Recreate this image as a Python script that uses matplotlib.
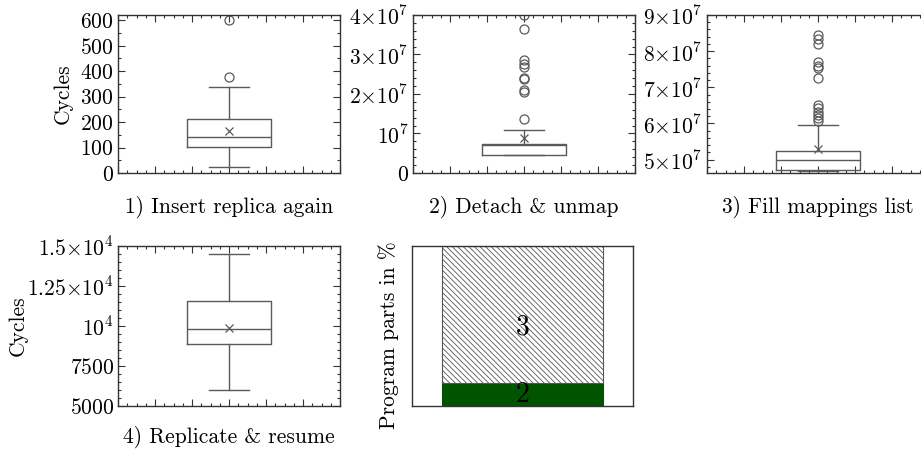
import matplotlib
matplotlib.use('Agg')
import matplotlib.pyplot as plt
from matplotlib.ticker import MultipleLocator, FixedLocator, FixedFormatter

plt.rcParams['font.family'] = ['cmr10', 'DejaVu Serif']
plt.rcParams['mathtext.fontset'] = 'cm'
plt.rcParams['axes.unicode_minus'] = False
plt.rcParams['axes.formatter.use_mathtext'] = True
plt.rcParams['hatch.linewidth'] = 0.6
plt.rcParams['hatch.color'] = '#222222'

# ---------------- data ----------------
titles = ["1) Insert replica again", "2) Detach & unmap",
          "3) Fill mappings list", "4) Replicate & resume"]

medians = [143, 7.0e6, 4.99e7, 9800]
q1s = [103, 4.5e6, 4.70e7, 8900]
q3s = [211, 7.35e6, 5.23e7, 11560]
whislos = [22, 4.5e6, 4.68e7, 5980]
whishis = [337, 1.08e7, 5.95e7, 14480]
means = [166, 8.9e6, 5.30e7, 9860]

fliers1 = [378, 600]
fliers2 = [1.37e7, 2.05e7, 2.10e7, 2.37e7, 2.40e7, 2.69e7, 2.75e7, 2.85e7, 3.65e7, 4.0e7]
fliers3 = [6.08e7, 6.15e7, 6.24e7, 6.33e7, 6.43e7, 6.52e7, 7.25e7, 7.53e7,
           7.60e7, 7.70e7, 8.19e7, 8.33e7, 8.45e7]
fliers4 = []
fliers = [fliers1, fliers2, fliers3, fliers4]

yticks1 = [0, 100, 200, 300, 400, 500, 600]
yticklabels1 = ['0', '100', '200', '300', '400', '500', '600']
yticks2 = [0, 1e7, 2e7, 3e7, 4e7]
yticklabels2 = ['0', r'10^{7}', r'2{\times}10^{7}', r'3{\times}10^{7}', r'4{\times}10^{7}']
yticks3 = [5e7, 6e7, 7e7, 8e7, 9e7]
yticklabels3 = [r'5{\times}10^{7}', r'6{\times}10^{7}', r'7{\times}10^{7}',
                r'8{\times}10^{7}', r'9{\times}10^{7}']
yticks4 = [5000, 7500, 10000, 12500, 15000]
yticklabels4 = ['5000', '7500', r'10^{4}', r'1.25{\times}10^{4}', r'1.5{\times}10^{4}']
yticks = [yticks1, yticks2, yticks3, yticks4]
yticklabels = [yticklabels1, yticklabels2, yticklabels3, yticklabels4]
ylims = [(0, 620), (0, 4e7), (4.63e7, 9e7), (5000, 15000)]
yminor = [50, 2e6, 2e6, 500]

part_names = ['2', '3']
part_values = [14.5, 85.5]

# ---------------- style ----------------
W, H = 921, 450
fig = plt.figure(figsize=(W / 100, H / 100), dpi=100)

def ax_px(left, top, right, bottom):
    return fig.add_axes([left / W, 1 - bottom / H, (right - left) / W, (bottom - top) / H])

boxes_px = [(118, 15, 340, 173), (413, 15, 635, 173), (707, 15, 929, 173), (118, 246, 340, 406)]
ylabel_x = {0: -0.203, 3: -0.405}
xlabel_pad = [13, 13, 13, 11]
spine_c = '#333333'
box_c = '#5a5a5a'
FS = 15.5

for i in range(4):
    ax = ax_px(*boxes_px[i])
    stats = dict(med=medians[i], q1=q1s[i], q3=q3s[i], whislo=whislos[i],
                 whishi=whishis[i], mean=means[i], fliers=fliers[i])
    ax.bxp([stats], positions=[1], widths=0.45, capwidths=[0.22], showmeans=True,
           boxprops=dict(color=box_c, linewidth=1.0),
           whiskerprops=dict(color=box_c, linewidth=1.0),
           capprops=dict(color=box_c, linewidth=1.0),
           medianprops=dict(color=box_c, linewidth=1.0),
           meanprops=dict(marker='x', markeredgecolor=box_c, markerfacecolor='none',
                          markersize=6, markeredgewidth=0.9),
           flierprops=dict(marker='o', markerfacecolor='none', markeredgecolor=box_c,
                           markersize=6.5, markeredgewidth=0.9))
    ax.set_xlim(0.4, 1.6)
    ax.set_ylim(*ylims[i])
    ax.xaxis.set_major_locator(MultipleLocator(0.2))
    ax.xaxis.set_minor_locator(MultipleLocator(0.05))
    ax.set_xticklabels([])
    ax.yaxis.set_major_locator(FixedLocator(yticks[i]))
    ax.yaxis.set_major_formatter(FixedFormatter(['$' + s + '$' for s in yticklabels[i]]))
    ax.yaxis.set_minor_locator(MultipleLocator(yminor[i]))
    ax.tick_params(which='both', direction='in', top=True, right=True, color=spine_c,
                   width=0.8, labelsize=FS, pad=3)
    ax.tick_params(which='major', length=5)
    ax.tick_params(which='minor', length=2.5)
    for s in ax.spines.values():
        s.set_color(spine_c)
        s.set_linewidth(1.0)
    ax.set_xlabel(titles[i], fontsize=FS, labelpad=xlabel_pad[i])
    if i in ylabel_x:
        ax.set_ylabel('Cycles', fontsize=FS)
        ax.yaxis.set_label_coords(ylabel_x[i], 0.5)

# stacked part bar
ax5 = ax_px(412, 246, 633, 406)
bottoms = [0]
for v in part_values[:-1]:
    bottoms.append(bottoms[-1] + v)
ax5.bar([1], [part_values[0]], bottom=bottoms[0], width=0.724, color='#005400',
        edgecolor='#005400', linewidth=0.8)
ax5.bar([1], [part_values[1]], bottom=bottoms[1], width=0.724, color='white',
        edgecolor='#555555', linewidth=0.8, hatch=chr(92) * 6)
ax5.text(1, bottoms[1] + part_values[1] / 2, part_names[1], ha='center', va='top', fontsize=20)
ax5.text(1, bottoms[0] + part_values[0] / 2, part_names[0], ha='center', va='center', fontsize=20)
ax5.set_xlim(0.5, 1.5)
ax5.set_ylim(0, 100)
ax5.set_xticks([])
ax5.set_yticks([])
for s in ax5.spines.values():
    s.set_color(spine_c)
    s.set_linewidth(1.0)
ax5.set_ylabel('Program parts in %', fontsize=FS)
ax5.yaxis.set_label_coords(-0.059, 0.44)

fig.savefig('out.png', dpi=100)
